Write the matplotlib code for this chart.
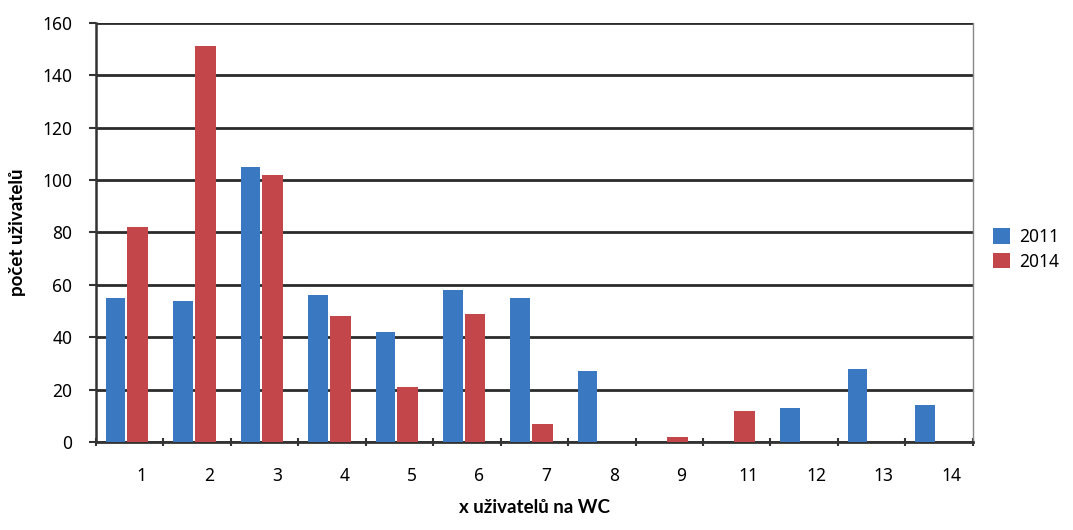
import matplotlib
matplotlib.use("Agg")
import matplotlib.pyplot as plt
import numpy as np

categories = ["1", "2", "3", "4", "5", "6", "7", "8", "9", "11", "12", "13", "14"]
values_2011 = [55, 54, 105, 56, 42, 58, 55, 27, 0, 0, 13, 28, 14]
values_2014 = [82, 151, 102, 48, 21, 49, 7, 0, 2, 12, 0, 0, 0]
series_labels = ["2011", "2014"]
y_ticks = [0, 20, 40, 60, 80, 100, 120, 140, 160]

plt.rcParams['font.family'] = ['Noto Sans', 'DejaVu Sans']

fig = plt.figure(figsize=(10.73, 5.30), dpi=100)
ax = fig.add_axes([0.0895, 0.166, 0.817, 0.791])

x = np.arange(len(categories))
blue = "#3b78c2"
red = "#c2464a"
ax.bar(x - 0.21, values_2011, width=0.29, color=blue, label=series_labels[0], zorder=3)
ax.bar(x + 0.12, values_2014, width=0.31, color=red, label=series_labels[1], zorder=3)

ax.set_xlim(-0.5, len(categories) - 0.5)
ax.set_ylim(0, 160)
ax.set_yticks(y_ticks)
ax.set_yticklabels([str(v) for v in y_ticks], fontsize=12.5)
ax.yaxis.grid(True, color="#2b2b2b", linewidth=2.0, zorder=1)
ax.set_axisbelow(True)

ax.set_xticks(x + 0.18)
ax.set_xticklabels(categories, fontsize=12.5)
ax.tick_params(axis='x', length=0, pad=18)
ax.set_xticks(np.arange(-0.5, len(categories), 1.0), minor=True)
ax.tick_params(axis='x', which='minor', length=6, width=1.5, color="#333333", direction='inout')
ax.tick_params(axis='y', length=5, width=1.5, color="#333333", pad=12)

ax.spines["top"].set_visible(False)
ax.spines["left"].set_color("#333333")
ax.spines["left"].set_linewidth(1.8)
ax.spines["bottom"].set_color("#333333")
ax.spines["bottom"].set_linewidth(2.0)
ax.spines["right"].set_color("#888888")
ax.spines["right"].set_linewidth(1.0)

ax.set_ylabel("počet uživatelů", fontsize=13.5, fontweight='bold', labelpad=12,
              family=['Lato', 'DejaVu Sans'])
ax.set_xlabel("x uživatelů na WC", fontsize=13.5, fontweight='bold', labelpad=10,
              family=['Lato', 'DejaVu Sans'])

ax.legend(loc='center left', bbox_to_anchor=(1.005, 0.46), frameon=False,
          fontsize=12.5, handlelength=1.0, handleheight=1.0, handletextpad=0.5,
          labelspacing=0.4)

fig.savefig("out.png", dpi=100)
